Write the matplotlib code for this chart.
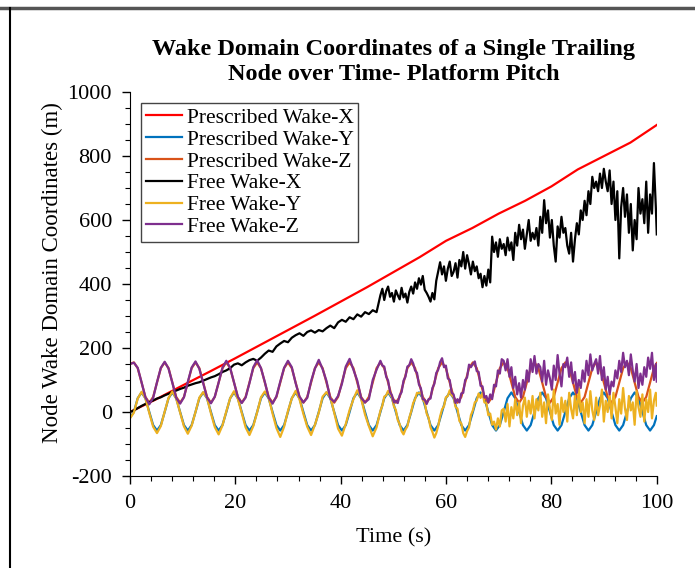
import matplotlib
matplotlib.use('Agg')
import matplotlib.pyplot as plt
from matplotlib.lines import Line2D

plt.rcParams['font.family'] = ['Liberation Serif', 'DejaVu Serif']
plt.rcParams['axes.unicode_minus'] = False

# tempo (s) - prescribed wake sampled every 1/8 of a pitch cycle
t_pre = [0,
         0.74, 1.47, 2.20, 2.93, 3.67, 4.40, 5.13, 5.86,
         6.59, 7.32, 8.05, 8.78, 9.52, 10.25, 10.98, 11.71,
         12.44, 13.17, 13.90, 14.63, 15.37, 16.10, 16.83, 17.56,
         18.29, 19.02, 19.75, 20.48, 21.22, 21.95, 22.68, 23.41,
         24.14, 24.87, 25.60, 26.33, 27.07, 27.80, 28.53, 29.26,
         29.99, 30.72, 31.45, 32.18, 32.92, 33.65, 34.38, 35.11,
         35.84, 36.57, 37.30, 38.03, 38.77, 39.50, 40.23, 40.96,
         41.69, 42.42, 43.15, 43.88, 44.62, 45.35, 46.08, 46.81,
         47.54, 48.27, 49.00, 49.73, 50.47, 51.20, 51.93, 52.66,
         53.39, 54.12, 54.85, 55.58, 56.32, 57.05, 57.78, 58.51,
         59.24, 59.97, 60.70, 61.43, 62.17, 62.90, 63.63, 64.36,
         65.09, 65.82, 66.55, 67.28, 68.02, 68.75, 69.48, 70.21,
         70.94, 71.67, 72.40, 73.13, 73.87, 74.60, 75.33, 76.06,
         76.79, 77.52, 78.25, 78.98, 79.72, 80.45, 81.18, 81.91,
         82.64, 83.37, 84.10, 84.83, 85.57, 86.30, 87.03, 87.76,
         88.49, 89.22, 89.95, 90.68, 91.42, 92.15, 92.88, 93.61,
         94.34, 95.07, 95.80, 96.53, 97.27, 98.00, 98.73, 99.46,
         100]

y_pre = [-18,
         0, 43, 61, 43, 0, -41, -58, -41,
         0, 43, 61, 43, 0, -41, -58, -41,
         0, 43, 61, 43, 0, -41, -58, -41,
         0, 43, 61, 43, 0, -41, -58, -41,
         0, 43, 61, 43, 0, -41, -58, -41,
         0, 43, 61, 43, 0, -41, -58, -41,
         0, 43, 61, 43, 0, -41, -58, -41,
         0, 43, 61, 43, 0, -41, -58, -41,
         0, 43, 61, 43, 0, -41, -58, -41,
         0, 43, 61, 43, 0, -41, -58, -41,
         0, 43, 61, 43, 0, -41, -58, -41,
         0, 43, 61, 43, 0, -41, -58, -41,
         0, 43, 61, 43, 0, -41, -58, -41,
         0, 43, 61, 43, 0, -41, -58, -41,
         0, 43, 61, 43, 0, -41, -58, -41,
         0, 43, 61, 43, 0, -41, -58, -41,
         0, 43, 61, 43, 0, -41, -58, -41,
         -13]

z_pre = [150,
         155, 137, 92, 47, 29, 47, 92, 137,
         155, 137, 92, 47, 29, 47, 92, 137,
         155, 137, 92, 47, 29, 47, 92, 137,
         155, 137, 92, 47, 29, 47, 92, 137,
         155, 137, 92, 47, 29, 47, 92, 137,
         155, 137, 92, 47, 29, 47, 92, 137,
         155, 137, 92, 47, 29, 47, 92, 137,
         155, 137, 92, 47, 29, 47, 92, 137,
         155, 137, 92, 47, 29, 47, 92, 137,
         155, 137, 92, 47, 29, 47, 92, 137,
         155, 137, 92, 47, 29, 47, 92, 137,
         155, 137, 92, 47, 29, 47, 92, 137,
         155, 137, 92, 47, 29, 47, 92, 137,
         155, 137, 92, 47, 29, 47, 92, 137,
         155, 137, 92, 47, 29, 47, 92, 137,
         155, 137, 92, 47, 29, 47, 92, 137,
         155, 137, 92, 47, 29, 47, 92, 137,
         153]

# prescribed wake X - quase linear
t_x = [0, 5, 10, 15, 20, 25, 30, 35, 40, 45, 50, 55, 60, 65, 70, 75, 80, 85, 90, 95, 100]
x_pre = [0, 40, 83, 125, 168, 212, 256, 300, 345, 390, 437, 484, 535, 575, 620, 660, 705, 758, 800, 842, 897]

# free wake: mesma amostragem ate 46.8 s, depois amostragem 2x mais fina
t_fine = [47.54, 47.91, 48.27, 48.64, 49.00, 49.37, 49.73, 50.10, 50.47, 50.83, 51.20, 51.56, 51.93, 52.29, 52.66, 53.02,
          53.39, 53.76, 54.12, 54.49, 54.85, 55.22, 55.58, 55.95, 56.32, 56.68, 57.05, 57.41, 57.78, 58.14, 58.51, 58.87,
          59.24, 59.61, 59.97, 60.34, 60.70, 61.07, 61.43, 61.80, 62.17, 62.53, 62.90, 63.26, 63.63, 63.99, 64.36, 64.72,
          65.09, 65.46, 65.82, 66.19, 66.55, 66.92, 67.28, 67.65, 68.02, 68.38, 68.75, 69.11, 69.48, 69.84, 70.21, 70.57,
          70.94, 71.31, 71.67, 72.04, 72.40, 72.77, 73.13, 73.50, 73.87, 74.23, 74.60, 74.96, 75.33, 75.69, 76.06, 76.42,
          76.79, 77.16, 77.52, 77.89, 78.25, 78.62, 78.98, 79.35, 79.72, 80.08, 80.45, 80.81, 81.18, 81.54, 81.91, 82.27,
          82.64, 83.01, 83.37, 83.74, 84.10, 84.47, 84.83, 85.20, 85.57, 85.93, 86.30, 86.66, 87.03, 87.39, 87.76, 88.12,
          88.49, 88.86, 89.22, 89.59, 89.95, 90.32, 90.68, 91.05, 91.42, 91.78, 92.15, 92.51, 92.88, 93.24, 93.61, 93.97,
          94.34, 94.71, 95.07, 95.44, 95.80, 96.17, 96.53, 96.90, 97.27, 97.63, 98.00, 98.36, 98.73, 99.09, 99.46, 99.82,
          100]
t_free = t_pre[:65] + t_fine

x_free = [0,
          5, 12, 19, 25, 31, 36, 42, 46,
          52, 57, 63, 67, 72, 76, 82, 86,
          90, 93, 98, 103, 108, 112, 118, 125,
          130, 137, 148, 152, 146, 155, 162, 166,
          160, 170, 182, 192, 188, 205, 214, 222,
          218, 232, 240, 246, 238, 250, 255, 248,
          256, 252, 262, 270, 262, 280, 288, 282,
          296, 290, 305, 298, 312, 306, 318, 312,
          365, 385, 350, 378, 392, 360, 372, 345, 380, 365, 352, 388, 358, 370, 342, 375,
          392, 370, 405, 385, 418, 398, 425, 382, 372, 360, 345, 372, 352, 410, 440, 468,
          430, 455, 410, 448, 470, 425, 438, 465, 420, 475, 455, 500, 448, 490, 462, 430,
          470, 440, 455, 418, 432, 390, 425, 395, 445, 405, 548, 500, 530, 485, 540, 510,
          525, 490, 545, 505, 530, 475, 560, 520, 585, 540, 570, 510, 555, 600, 535, 560,
          540, 575, 520, 610, 560, 662, 590, 630, 545, 600, 520, 470, 580, 545, 610, 560,
          575, 520, 495, 560, 470, 540, 590, 555, 630, 600, 660, 615, 690, 650, 735, 700,
          720, 690, 745, 700, 760, 720, 690, 755, 650, 720, 600, 690, 480, 640, 700, 610,
          680, 560, 650, 505, 600, 540, 700, 620, 665, 590, 720, 560, 680, 620, 778, 640,
          555]

y_free = [-20,
          -2, 42, 63, 43, -3, -46, -66, -44,
          1, 44, 64, 42, -2, -45, -68, -43,
          0, 45, 62, 44, -4, -47, -70, -42,
          2, 43, 65, 41, -3, -48, -72, -44,
          -1, 46, 64, 45, -5, -50, -78, -46,
          3, 42, 66, 40, -6, -46, -72, -40,
          -2, 48, 62, 46, -2, -52, -74, -38,
          6, 40, 68, 42, -8, -44, -76, -48,
          4, 20, 48, 52, 66, 55, 47, 18, 6, -25, -38, -60, -70, -55, -45, -18,
          2, 28, 40, 60, 58, 62, 38, 30, -5, -18, -48, -62, -80, -66, -44, -14,
          8, 18, 46, 50, 68, 52, 48, 16, 10, -28, -36, -66, -78, -60, -48, -10,
          5, 30, 35, 58, 44, 60, 30, 28, -10, -5, -40, -30, -55, -20, -45, 5,
          10, -30, 25, -45, 15, -20, 40, -10, 30, -35, 20, 45, -15, 35, -5, 50,
          -20, 40, 5, 60, -15, 30, -35, 55, 10, -25, 70, -5, 25, -40, 45, 0,
          35, -30, 60, 10, -20, 50, -10, 75, 0, 30, -35, 40, -15, 65, 5, -25,
          45, -10, 20, 70, -30, 35, 0, 55, -20, 60, 15, -35, 40, -5, 75, 10,
          -25, 50, 5, 30, -40, 65, 15, -15, 55, -30, 40, 0, 70, -20, 35, 60,
          20]

z_free = [150,
          154, 138, 93, 46, 24, 44, 93, 138,
          157, 136, 91, 44, 26, 46, 94, 139,
          158, 135, 90, 45, 27, 48, 92, 138,
          160, 138, 92, 47, 28, 45, 90, 140,
          162, 137, 94, 45, 26, 49, 95, 138,
          160, 140, 90, 48, 30, 44, 96, 136,
          163, 134, 97, 42, 32, 50, 88, 142,
          166, 132, 98, 44, 30, 40, 100, 132,
          160, 145, 142, 110, 98, 62, 52, 30, 35, 28, 52, 62, 98, 110, 142, 146,
          165, 152, 130, 122, 86, 74, 40, 38, 25, 40, 42, 75, 88, 122, 132, 156,
          168, 140, 145, 105, 100, 60, 55, 28, 40, 30, 58, 60, 100, 108, 148, 140,
          150, 158, 128, 125, 82, 80, 45, 50, 30, 55, 40, 85, 80, 130, 120, 165,
          160, 130, 165, 110, 140, 75, 110, 55, 90, 45, 100, 70, 130, 95, 165, 125,
          175, 120, 150, 140, 95, 160, 85, 130, 105, 70, 145, 100, 178, 120, 80, 150,
          140, 170, 110, 155, 90, 125, 60, 100, 75, 130, 95, 160, 115, 180, 130, 150,
          165, 120, 175, 100, 140, 70, 110, 55, 95, 80, 130, 105, 160, 125, 185, 140,
          160, 115, 180, 130, 95, 150, 75, 120, 85, 140, 110, 170, 135, 185, 100, 150,
          95]

fig = plt.figure(figsize=(6.95, 5.68), dpi=100)
ax = fig.add_axes([0.187, 0.162, 0.758, 0.676])

lw = 1.6
ax.plot(t_x, x_pre, color='#FF0000', lw=lw, label='Prescribed Wake-X')
ax.plot(t_pre, y_pre, color='#0072BD', lw=lw, label='Prescribed Wake-Y')
ax.plot(t_pre, z_pre, color='#D95319', lw=lw, label='Prescribed Wake-Z')
ax.plot(t_free, x_free, color='black', lw=lw, label='Free Wake-X')
ax.plot(t_free, y_free, color='#EDB120', lw=lw, label='Free Wake-Y')
ax.plot(t_free, z_free, color='#7E2F8E', lw=lw, label='Free Wake-Z')

ax.set_xlim(0, 100)
ax.set_ylim(-200, 1000)
ax.set_xticks([0, 20, 40, 60, 80, 100])
ax.set_yticks([-200, 0, 200, 400, 600, 800, 1000])
ax.set_xticks(range(0, 101, 4), minor=True)
ax.set_yticks(range(-200, 1001, 50), minor=True)
ax.tick_params(which='major', direction='out', length=6, width=1, labelsize=16, pad=7)
ax.tick_params(which='minor', direction='out', length=3.5, width=0.8)
ax.spines['top'].set_visible(False)
ax.spines['right'].set_visible(False)

ax.set_xlabel('Time (s)', fontsize=16)
ax.set_ylabel('Node Wake Domain Coordinates (m)', fontsize=16.5)
ax.xaxis.set_label_coords(0.5, -0.135)
ax.yaxis.set_label_coords(-0.127, 0.53)
ax.set_title('Wake Domain Coordinates of a Single Trailing\nNode over Time- Platform Pitch',
             fontsize=17.5, fontweight='bold', linespacing=1.2, pad=9)

leg = ax.legend(loc='upper left', bbox_to_anchor=(0.021, 0.971), fontsize=15.5,
                frameon=True, fancybox=False, edgecolor='#444444', framealpha=1,
                handlelength=1.7, handletextpad=0.2, labelspacing=0.08,
                borderpad=0.22, borderaxespad=0)
leg.get_frame().set_linewidth(1.0)

# moldura da figura (topo e lado esquerdo)
fig.add_artist(Line2D([0, 1], [1 - 8 / 568, 1 - 8 / 568], transform=fig.transFigure, color='#555555', lw=2.5))
fig.add_artist(Line2D([10 / 695, 10 / 695], [0, 1 - 8 / 568], transform=fig.transFigure, color='black', lw=1.5))

fig.savefig('out.png', dpi=100)
